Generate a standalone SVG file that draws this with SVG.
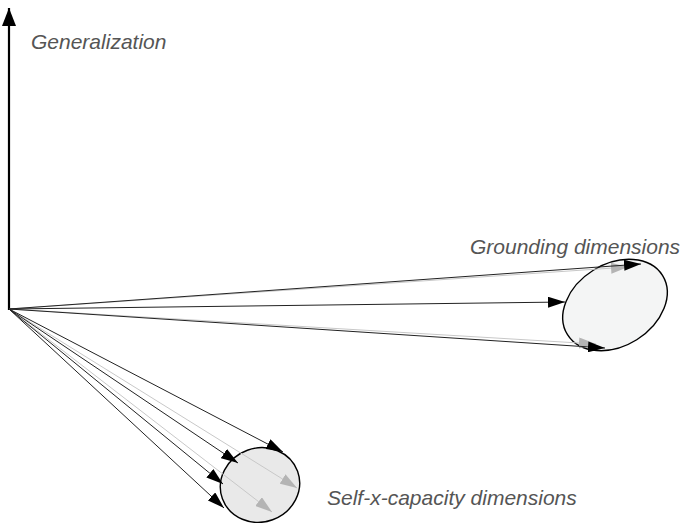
<svg xmlns="http://www.w3.org/2000/svg" width="685" height="523" viewBox="0 0 685 523">
  <style>
    .label { font-family: "Liberation Sans", Arial, sans-serif; font-style: italic; font-size: 21px; fill: #555; }
    .dim { stroke: #222; stroke-width: 1; fill: none; }
    .faint { stroke: #c8c8c8; stroke-width: 1; fill: none; }
    .axis { stroke: #000; stroke-width: 2.2; fill: none; }
  </style>
  <defs>
    <marker id="headBlack" markerUnits="userSpaceOnUse" markerWidth="17" markerHeight="11" refX="17" refY="5.5" orient="auto">
      <path d="M0,0 L17,5.5 L0,11 z" fill="#000"/>
    </marker>
    <marker id="headGray" markerUnits="userSpaceOnUse" markerWidth="17" markerHeight="11" refX="17" refY="5.5" orient="auto">
      <path d="M0,0 L17,5.5 L0,11 z" fill="#b4b4b4"/>
    </marker>
    <marker id="headAxis" markerUnits="userSpaceOnUse" markerWidth="14" markerHeight="20" refX="7" refY="0" orient="0">
      <path d="M7,0 L14,18 L0,18 z" fill="#000"/>
    </marker>
  </defs>

  <g id="grounding">
    <ellipse cx="615" cy="305" rx="56" ry="41" transform="rotate(-32 615 305)" fill="#f4f5f5" stroke="#000" stroke-width="1.4"/>
    <text class="label" x="470" y="254">Grounding dimensions</text>
  </g>

  <g id="selfx">
    <ellipse cx="260" cy="485" rx="40" ry="37" transform="rotate(-20 260 485)" fill="#e9e9e9" stroke="#000" stroke-width="1.4"/>
    <text class="label" x="327" y="505">Self-x-capacity dimensions</text>
  </g>

  <g id="generalization">
    <text class="label" x="31" y="49">Generalization</text>
  </g>

  <g id="connectors">
    <!-- vertical axis -->
    <line class="axis" x1="9" y1="310" x2="9" y2="8" marker-end="url(#headAxis)"/>
    <!-- faint rays -->
    <line class="faint" x1="9" y1="309" x2="628" y2="267" marker-end="url(#headGray)"/>
    <line class="faint" x1="9" y1="309" x2="596" y2="344" marker-end="url(#headGray)"/>
    <line class="faint" x1="9" y1="309" x2="297" y2="488" marker-end="url(#headGray)"/>
    <line class="faint" x1="9" y1="309" x2="272" y2="512" marker-end="url(#headGray)"/>
    <!-- dark rays -->
    <line class="dim" x1="9" y1="309" x2="641" y2="264" marker-end="url(#headBlack)"/>
    <line class="dim" x1="9" y1="309" x2="565" y2="302" marker-end="url(#headBlack)"/>
    <line class="dim" x1="9" y1="309" x2="605" y2="348" marker-end="url(#headBlack)"/>
    <line class="dim" x1="9" y1="309" x2="283" y2="452" marker-end="url(#headBlack)"/>
    <line class="dim" x1="9" y1="309" x2="238" y2="463" marker-end="url(#headBlack)"/>
    <line class="dim" x1="9" y1="309" x2="223" y2="484" marker-end="url(#headBlack)"/>
    <line class="dim" x1="9" y1="309" x2="224" y2="508" marker-end="url(#headBlack)"/>
  </g>
</svg>
